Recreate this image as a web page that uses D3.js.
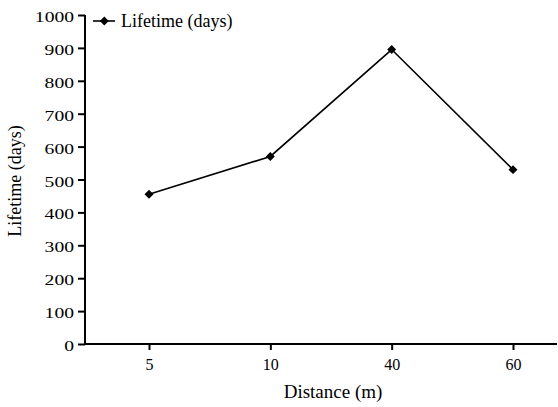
<!DOCTYPE html>
<html><head><meta charset="utf-8">
<script src="https://cdn.jsdelivr.net/npm/d3@7"></script>
<style>body{margin:0;background:#fff}svg{display:block}svg text{font-family:'Liberation Serif',serif !important}</style>
</head><body>
<svg id="c" width="558" height="407"></svg>
<script>
const categories = ["5", "10", "40", "60"];
const lifetime = [455, 570, 895, 530];
const yTicks = [0,100,200,300,400,500,600,700,800,900,1000];
const seriesName = "Lifetime (days)";
const xTitle = "Distance (m)";
const yTitle = "Lifetime (days)";
const FONT = "Liberation Serif";

const svg = d3.select("#c").attr("font-family", FONT);
const axisLeft = 85, axisRight = 557, yTop = 15, yBottom = 344;
const x = d3.scalePoint().domain(categories).range([149, 513]);
const y = d3.scaleLinear().domain([0, 1000]).range([yBottom, yTop]);

// y axis
const ga = svg.append("g").attr("transform", `translate(${axisLeft},0)`)
  .call(d3.axisLeft(y).tickValues(yTicks).tickFormat(d3.format("d")).tickSize(7));
ga.attr("font-family", FONT).attr("font-size", null);
ga.select(".domain").attr("d", `M0,${yTop}V${yBottom}`).attr("stroke-width", 2);
ga.selectAll(".tick line").attr("stroke-width", 2);
ga.selectAll(".tick text")
  .attr("x", null).attr("dy", null).attr("y", 6.5)
  .attr("transform", "translate(-11,0) scale(1.4,1)")
  .attr("font-family", FONT).attr("font-size", 14).attr("fill", "#000");

// x axis
const gx = svg.append("g").attr("transform", `translate(0,${yBottom})`)
  .call(d3.axisBottom(x).tickSize(6));
gx.attr("font-family", FONT).attr("font-size", null);
gx.select(".domain").attr("d", `M${axisLeft},0H${axisRight}`).attr("stroke-width", 2);
gx.selectAll(".tick line").attr("stroke-width", 2);
gx.selectAll(".tick text").attr("dy", null).attr("y", 26)
  .attr("font-family", FONT).attr("font-size", 16).attr("fill", "#000");

// line
const pts = categories.map((c, i) => [x(c), y(lifetime[i])]);
svg.append("path").attr("d", d3.line()(pts)).attr("fill", "none").attr("stroke", "#000").attr("stroke-width", 1.6);
const marker = d3.symbol().type(d3.symbolSquare).size(40);
svg.selectAll(".pt").data(pts).join("path").attr("class","pt")
  .attr("transform", d => `translate(${d[0]},${d[1]}) rotate(45)`)
  .attr("d", marker).attr("fill", "#000");

// legend
const lg = svg.append("g").attr("transform", "translate(93,21)");
lg.append("line").attr("x1", 0).attr("x2", 22).attr("y1", 0).attr("y2", 0).attr("stroke", "#000").attr("stroke-width", 1.6);
lg.append("path").attr("transform", "translate(11.3,0) rotate(45)").attr("d", marker).attr("fill", "#000");
lg.append("text").attr("x", 28).attr("y", 6).attr("font-size", 18).attr("fill", "#000").text(seriesName);

// titles
svg.append("text").attr("x", 333).attr("y", 398).attr("text-anchor", "middle").attr("font-size", 19).attr("fill", "#000").text(xTitle);
svg.append("text").attr("transform", "translate(21,181) rotate(-90)").attr("text-anchor", "middle").attr("font-size", 18).attr("fill", "#000").text(yTitle);
</script>
</body></html>
